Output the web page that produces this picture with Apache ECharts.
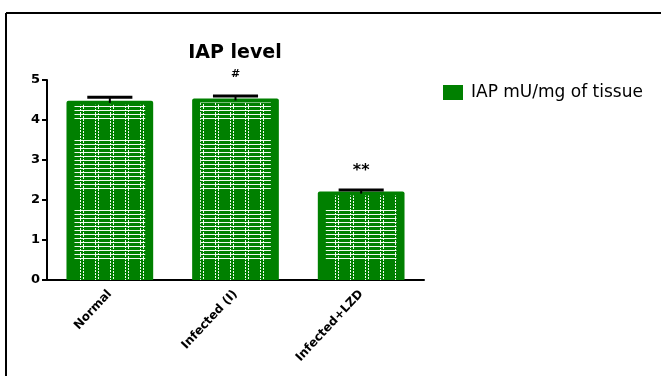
<!DOCTYPE html>
<html><head><meta charset="utf-8">
<script src="https://cdn.jsdelivr.net/npm/echarts@6/dist/echarts.min.js"></script>
<style>html,body{margin:0;padding:0;background:#fff}#c{width:661px;height:376px}</style>
</head><body><div id="c"></div>
<script>
const categories = ['Normal', 'Infected (I)', 'Infected+LZD'];
const values = [4.48, 4.54, 2.21];
const errors = [0.09, 0.06, 0.04];
const marks = ['', '#', '**'];
const seriesName = 'IAP mU/mg of tissue';
const titleText = 'IAP level';
const GREEN = '#008000';

function makePattern(){
  const c = document.createElement('canvas');
  c.width = 15; c.height = 70;
  const g = c.getContext('2d');
  g.fillStyle = GREEN; g.fillRect(0,0,15,70);
  g.fillStyle = 'rgba(255,255,255,0.95)';
  for (let y = 0; y < 52; y += 4) g.fillRect(0, y, 15, 1);
  for (let y = 0; y < 70; y += 3) { g.fillRect(5, y, 1, 2); g.fillRect(8, y + 1, 1, 2); }
  return c;
}
const pattern = { image: makePattern(), repeat: 'repeat' };

const data = categories.map((c, i) => [i, values[i], errors[i]]);

const chart = echarts.init(document.getElementById('c'), null, {renderer: 'canvas'});
chart.setOption({
  backgroundColor: '#fff',
  animation: false,
  title: {
    text: titleText, left: 230, top: 39, textAlign: 'center',
    textStyle: {fontFamily: 'DejaVu Sans', fontWeight: 'bold', fontSize: 19, color: '#000'}
  },
  legend: {
    data: [seriesName], left: 443, top: 84, padding: 0, icon: 'rect',
    itemWidth: 20, itemHeight: 15,
    textStyle: {fontFamily: 'DejaVu Sans', fontSize: 17, color: '#000', padding: [0, 0, 0, 3]}
  },
  grid: {left: 47, right: 237, top: 80, bottom: 96, containLabel: false},
  xAxis: {
    type: 'category', data: categories,
    axisLine: {lineStyle: {color: '#000', width: 2}},
    axisTick: {alignWithLabel: true, length: 4, lineStyle: {color: '#000', width: 2}},
    axisLabel: {rotate: 47, margin: 12, color: '#000', fontFamily: 'DejaVu Sans', fontWeight: 'bold', fontSize: 12}
  },
  yAxis: {
    type: 'value', min: 0, max: 5, interval: 1,
    axisLine: {show: true, lineStyle: {color: '#000', width: 2}},
    axisTick: {show: true, length: 5, lineStyle: {color: '#000', width: 2}},
    splitLine: {show: false},
    axisLabel: {margin: 7, color: '#000', fontFamily: 'DejaVu Sans', fontWeight: 'bold', fontSize: 13}
  },
  graphic: [
    {type: 'line', shape: {x1: 6, y1: 13, x2: 661, y2: 13}, style: {stroke: '#000', lineWidth: 2}},
    {type: 'line', shape: {x1: 6, y1: 13, x2: 6, y2: 376}, style: {stroke: '#000', lineWidth: 2}}
  ],
  series: [{
    name: seriesName, type: 'custom', data: data,
    itemStyle: {color: GREEN},
    encode: {x: 0, y: 1},
    renderItem: function (params, api) {
      const i = api.value(0), v = api.value(1), e = api.value(2);
      const top = api.coord([i, v]);
      const base = api.coord([i, 0]);
      const errTop = api.coord([i, v + e]);
      const bw = api.size([1, 0])[0] * 0.69;
      const x0 = top[0] - bw / 2;
      const h = base[1] - top[1];
      const inset = 8;
      const capW = bw * 0.52;
      const mark = marks[params.dataIndex];
      const children = [
        {type: 'rect', shape: {x: x0, y: top[1], width: bw, height: h, r: [2, 2, 0, 0]}, style: {fill: GREEN}},
        {type: 'rect', shape: {x: x0 + inset, y: top[1] + 4, width: bw - 2 * inset, height: h - 4}, style: {fill: pattern}},
        {type: 'line', shape: {x1: top[0], y1: top[1] + 2, x2: top[0], y2: errTop[1]}, style: {stroke: '#000', lineWidth: 2}},
        {type: 'line', shape: {x1: top[0] - capW / 2, y1: errTop[1], x2: top[0] + capW / 2, y2: errTop[1]}, style: {stroke: '#000', lineWidth: 3}}
      ];
      if (mark) {
        children.push({type: 'text', style: {
          text: mark, x: top[0], y: errTop[1] - (mark === '#' ? 22 : 19), align: 'center', verticalAlign: 'middle',
          fontFamily: 'DejaVu Sans', fontSize: mark === '#' ? 11 : 16, fontWeight: 'bold', fill: '#000'
        }});
      }
      return {type: 'group', children: children};
    }
  }]
});
</script>
</body></html>
